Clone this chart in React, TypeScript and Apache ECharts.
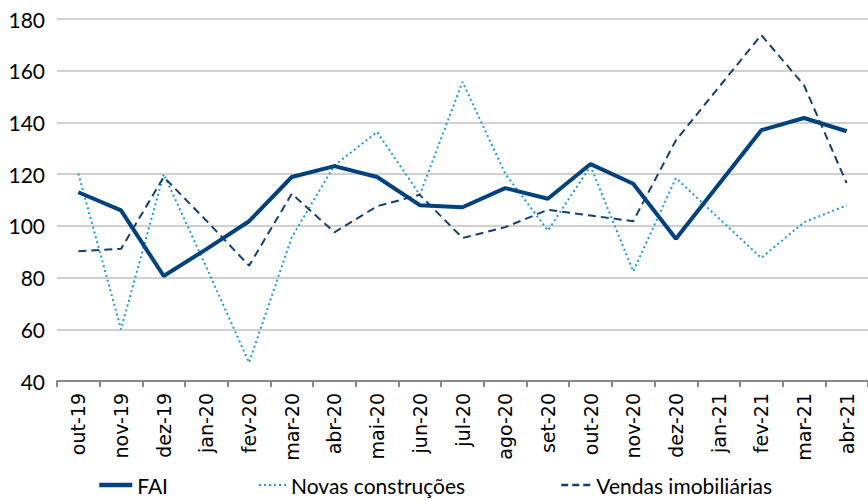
import React, { useEffect, useRef } from "react";
import * as echarts from "echarts";

const categories = [
  "out-19", "nov-19", "dez-19", "jan-20", "fev-20", "mar-20", "abr-20", "mai-20", "jun-20",
  "jul-20", "ago-20", "set-20", "out-20", "nov-20", "dez-20", "jan-21", "fev-21", "mar-21", "abr-21",
];
const fai = [113, 106, 80.6, 91, 101.8, 118.9, 123.1, 118.9, 108, 107.2, 114.6, 110.5, 123.9, 116.3, 95, 116, 137, 141.7, 136.6];
const novas = [120.2, 60, 120, 84, 47.1, 95.6, 123.4, 136.3, 112, 155.7, 120.2, 98.2, 123.1, 82.4, 118.5, 103, 87.6, 101.4, 107.9];
const vendas = [90.2, 91.1, 118.9, 102, 84.6, 112.4, 97.5, 107.6, 112, 95.3, 99.5, 106.2, 104, 101.8, 133.1, 153.5, 173.8, 154.4, 116.5];
const yMin = 40;
const yMax = 180;
const yStep = 20;

export default function App() {
  const ref = useRef<HTMLDivElement>(null);
  useEffect(() => {
    if (!ref.current) return;
    const chart = echarts.init(ref.current, undefined, { renderer: "svg" });
    const legendText = { fontFamily: "Lato", fontSize: 21, color: "#000", lineHeight: 22 };
    const legendItem = { opacity: 0, borderWidth: 0 };
    chart.setOption({
      animation: false,
      backgroundColor: "#fff",
      grid: { left: 57, right: 0, top: 19, bottom: 120, containLabel: false },
      legend: [
        { data: ["FAI"], left: 97, top: 474, itemWidth: 33, itemHeight: 12, padding: 0, itemStyle: legendItem, lineStyle: { width: 4.5 }, textStyle: legendText },
        { data: ["Novas construções"], left: 258, top: 474, itemWidth: 27, itemHeight: 12, padding: 0, itemStyle: legendItem, lineStyle: { width: 2 }, textStyle: legendText },
        { data: ["Vendas imobiliárias"], left: 560, top: 474, itemWidth: 30, itemHeight: 12, padding: 0, itemStyle: legendItem, lineStyle: { width: 2.5, type: [7, 4] }, textStyle: legendText },
      ],
      xAxis: {
        type: "category",
        data: categories,
        boundaryGap: true,
        axisLine: { lineStyle: { color: "#888", width: 2 } },
        axisTick: { show: true, length: 6, lineStyle: { color: "#888", width: 2 } },
        axisLabel: {
          rotate: 90,
          interval: 0,
          margin: 12,
          fontFamily: "DejaVu Sans",
          fontSize: 19,
          color: "#000",
        },
      },
      yAxis: {
        type: "value",
        min: yMin,
        max: yMax,
        interval: yStep,
        axisLine: { show: false },
        axisTick: { show: false },
        splitLine: { lineStyle: { color: "#c0c0c0", width: 1.5 } },
        axisLabel: { fontFamily: "Lato", fontSize: 21, color: "#000", margin: 12 },
      },
      series: [
        {
          name: "FAI",
          type: "line",
          data: fai,
          symbol: "none",
          lineStyle: { color: "#00427f", width: 4 },
          itemStyle: { color: "#00427f" },
          z: 3,
        },
        {
          name: "Novas construções",
          type: "line",
          data: novas,
          symbol: "none",
          lineStyle: { color: "#1c9ad6", width: 2, type: [2, 3] },
          itemStyle: { color: "#1c9ad6" },
          z: 2,
        },
        {
          name: "Vendas imobiliárias",
          type: "line",
          data: vendas,
          symbol: "none",
          lineStyle: { color: "#173f6e", width: 2, type: [8, 5] },
          itemStyle: { color: "#173f6e" },
          z: 2,
        },
      ],
    });
    return () => chart.dispose();
  }, []);
  return <div ref={ref} style={{ width: 868, height: 501, position: "absolute", left: 0, top: 0 }} />;
}
